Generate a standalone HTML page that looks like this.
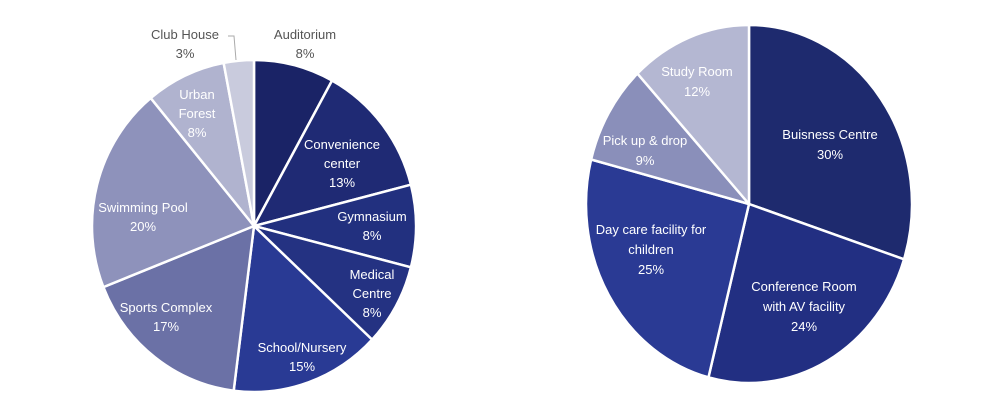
<!DOCTYPE html>
<html><head><meta charset="utf-8"><style>
html,body{margin:0;padding:0;background:#fff;}
svg text{font-family:"Liberation Sans",sans-serif;font-size:13px;text-anchor:middle;fill:#fff;}
</style></head><body>
<svg id="s" width="1000" height="415" viewBox="0 0 1000 415" xmlns="http://www.w3.org/2000/svg">
<g id="L"></g><g id="R"></g>
<polyline points="228,36 234,36 236,60" fill="none" stroke="#aaa" stroke-width="1"/>
<text x="185" y="39" style="fill:#555">Club House</text><text x="185" y="58" style="fill:#555">3%</text>
<text x="305" y="39" style="fill:#555">Auditorium</text><text x="305" y="58" style="fill:#555">8%</text>
<text x="197" y="99">Urban</text><text x="197" y="118">Forest</text><text x="197" y="137">8%</text>
<text x="342" y="149">Convenience</text><text x="342" y="168">center</text><text x="342" y="187">13%</text>
<text x="143" y="212">Swimming Pool</text><text x="143" y="231">20%</text>
<text x="372" y="221">Gymnasium</text><text x="372" y="240">8%</text>
<text x="372" y="279">Medical</text><text x="372" y="298">Centre</text><text x="372" y="317">8%</text>
<text x="166" y="312">Sports Complex</text><text x="166" y="331">17%</text>
<text x="302" y="352">School/Nursery</text><text x="302" y="371">15%</text>
<text x="697" y="76">Study Room</text><text x="697" y="96">12%</text>
<text x="645" y="145">Pick up &amp; drop</text><text x="645" y="165">9%</text>
<text x="830" y="139">Buisness Centre</text><text x="830" y="159">30%</text>
<text x="651" y="234">Day care facility for</text><text x="651" y="254">children</text><text x="651" y="274">25%</text>
<text x="804" y="291">Conference Room</text><text x="804" y="311">with AV facility</text><text x="804" y="331">24%</text>
</svg>
<script>
function pie(id,cx,cy,rx,ry,data){
  var g=document.getElementById(id),a=0,h='';
  data.forEach(function(d){
    var a1=a+d[0]/100*2*Math.PI;
    var x0=cx+rx*Math.sin(a),y0=cy-ry*Math.cos(a),x1=cx+rx*Math.sin(a1),y1=cy-ry*Math.cos(a1);
    var big=(a1-a)>Math.PI?1:0;
    h+='<path d="M'+cx+','+cy+' L'+x0+','+y0+' A'+rx+','+ry+' 0 '+big+' 1 '+x1+','+y1+' Z" fill="'+d[1]+'" stroke="#fff" stroke-width="2.5" stroke-linejoin="round"/>';
    a=a1;
  });
  g.innerHTML=h;
}
pie('L',254,226,162,166,[[8,'#1a2366'],[13,'#1f2a74'],[8,'#22307f'],[8,'#243282'],[15,'#293a94'],[17,'#6b71a6'],[20,'#8e92bb'],[8,'#b0b3cf'],[3,'#c9cbdd']]);
pie('R',749,204,163,179,[[30,'#1e2a6e'],[24,'#222f82'],[25,'#2a3a94'],[9,'#8a8fba'],[12,'#b4b7d2']]);
</script>
</body></html>
